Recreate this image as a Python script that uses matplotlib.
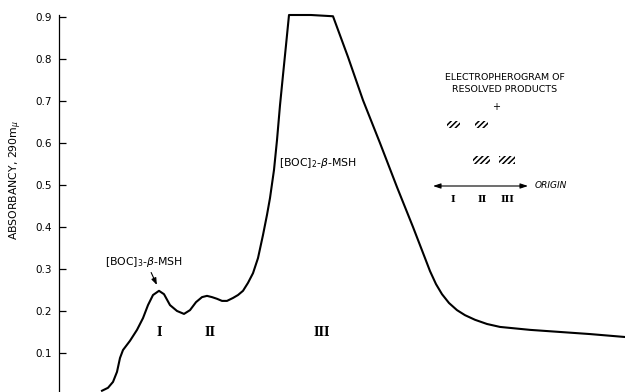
import matplotlib
matplotlib.use("Agg")
import matplotlib.pyplot as plt
from matplotlib.patches import Rectangle

plt.rcParams["hatch.linewidth"] = 1.1

# Elution profile (arbitrary effluent units) and absorbancy at 290 mμ
effluent = [43, 49, 54, 58, 61, 64, 71, 78, 84, 89, 94, 100, 105, 111, 118, 125,
            131, 137, 143, 148, 153, 158, 163, 168, 174, 179, 184, 189, 194, 199,
            204, 208, 211, 215, 218, 221, 224, 227, 230, 252, 274, 289, 304, 321,
            338, 354, 366, 371, 377, 383, 390, 398, 406, 416, 428, 441, 471, 501,
            531, 566]
absorbancy = [0.010, 0.017, 0.031, 0.055, 0.088, 0.107, 0.129, 0.155, 0.183, 0.214,
              0.238, 0.248, 0.240, 0.214, 0.200, 0.193, 0.202, 0.221, 0.233, 0.236,
              0.233, 0.229, 0.224, 0.224, 0.231, 0.238, 0.248, 0.267, 0.290, 0.326,
              0.381, 0.429, 0.469, 0.536, 0.607, 0.690, 0.762, 0.833, 0.905, 0.905,
              0.902, 0.805, 0.702, 0.600, 0.495, 0.400, 0.326, 0.295, 0.264, 0.240,
              0.219, 0.202, 0.190, 0.179, 0.169, 0.162, 0.155, 0.150, 0.145, 0.138]
yticks = [0.1, 0.2, 0.3, 0.4, 0.5, 0.6, 0.7, 0.8, 0.9]

# peak fraction labels
peak_labels = ["I", "II", "III"]
peak_pos = [100, 151, 263]

# electropherogram spots: (left, right) extents, row (0 = top, 1 = bottom)
spot_left = [447, 475, 473, 499]
spot_right = [460, 488, 490, 515]
spot_row = [0, 0, 1, 1]
spot_row_y = [121, 156]
spot_h = [7, 8]
ep_labels = ["I", "II", "III"]
ep_pos = [453, 482, 507]

W, H = 625, 392
fig = plt.figure(figsize=(6.25, 3.92), dpi=100)

def fx(px):
    return px / W

def fy(py):
    return 1 - py / H

ax = fig.add_axes([fx(59), 0.0, fx(625) - fx(59), fy(15)])
ax.plot(effluent, absorbancy, color="black", lw=1.5, clip_on=False,
        solid_joinstyle="round")
ax.set_xlim(0, 566)
ax.set_ylim(0.007, 0.905)
for s in ["top", "right", "bottom"]:
    ax.spines[s].set_visible(False)
ax.spines["left"].set_linewidth(0.9)
ax.set_xticks([])
ax.set_yticks(yticks)
ax.set_yticklabels([f"{v:.1f}" for v in yticks])
ax.tick_params(axis="y", direction="in", length=5, width=0.9, pad=5, labelsize=7.5)

fig.text(fx(16), fy(180), r"ABSORBANCY, 290m$_{\mu}$", rotation=90,
         ha="center", va="center", fontsize=7.8)

# peak labels
for lab, xp in zip(peak_labels, peak_pos):
    ax.text(xp, (395 - 333) / 420, lab, ha="center", va="center",
            family="DejaVu Serif", fontweight="bold", fontsize=8.5)

ax.text(46, (395 - 262) / 420, r"[BOC]$_3$-$\beta$-MSH", ha="left", va="center",
        fontsize=7.8)
ax.annotate("", xy=(99, 0.248 + 0.008), xytext=(91, (395 - 270) / 420),
            arrowprops=dict(arrowstyle="-|>,head_width=0.15,head_length=0.4",
                            color="black", lw=0.8))
ax.text(220, (395 - 163) / 420, r"[BOC]$_2$-$\beta$-MSH", ha="left", va="center",
        fontsize=7.8)

# electropherogram inset
ins = fig.add_axes([fx(420), fy(215), fx(600) - fx(420), fy(65) - fy(215)])
ins.set_xlim(420, 600)
ins.set_ylim(215, 65)
ins.axis("off")
ins.text(505, 78, "ELECTROPHEROGRAM OF", ha="center", va="center", fontsize=6.8)
ins.text(505, 89.5, "RESOLVED PRODUCTS", ha="center", va="center", fontsize=6.8)
ins.text(496, 107, "+", ha="center", va="center", fontsize=7)
for l, r, row in zip(spot_left, spot_right, spot_row):
    yc = spot_row_y[row]
    h = spot_h[row]
    ins.add_patch(Rectangle((l, yc), r - l, h, facecolor="none", edgecolor="black",
                            hatch="//////", lw=0))
ins.annotate("", xy=(433, 186), xytext=(528, 186),
             arrowprops=dict(arrowstyle="<|-|>,head_width=0.15,head_length=0.45",
                             color="black", lw=0.8, shrinkA=0, shrinkB=0))
ins.text(535, 186, "ORIGIN", ha="left", va="center", fontsize=6.5, style="italic")
for lab, xp in zip(ep_labels, ep_pos):
    ins.text(xp, 199, lab, ha="center", va="center", family="DejaVu Serif",
             fontweight="bold", fontsize=7)

fig.savefig("out.png", dpi=100)
